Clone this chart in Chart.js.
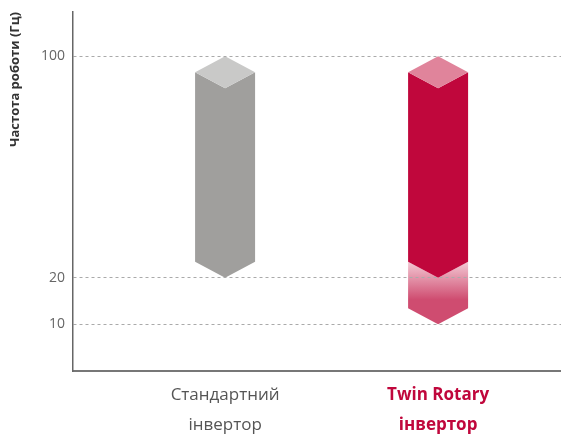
<!doctype html>
<html>
  <head>
    <meta charset="utf-8">
    <script src="https://cdnjs.cloudflare.com/ajax/libs/Chart.js/4.4.1/chart.umd.js"></script>
    <style>
      body { margin: 0; background: #fff; }
      #wrap { width: 561px; height: 434px; }
    </style>
    <script>
      // inverter types and their working frequency range (Hz)
      let categories = [['Стандартний', 'інвертор'], ['Twin Rotary', 'інвертор']];
      let categoryPos = [1, 2];
      let coreRange = [[20, 100], [20, 100]];
      let extendedRange = [null, [10, 20]];
      let yTicks = [10, 20, 100];

      // y scale that is stretched below 20 Hz
      class PiecewiseScale extends Chart.LinearScale {
        _toDecimal(v) {
          let stops = this.options.stops, shares = this.options.shares;
          let acc = 0;
          for (let i = 0; i < shares.length; i++) {
            if (v <= stops[i + 1] || i == shares.length - 1) {
              return acc + (v - stops[i]) / (stops[i + 1] - stops[i]) * shares[i];
            }
            acc += shares[i];
          }
          return acc;
        }
        getPixelForValue(value) {
          return this.getPixelForDecimal(this._toDecimal(value));
        }
        getValueForPixel(pixel) {
          let d = this.getDecimalForPixel(pixel);
          let stops = this.options.stops, shares = this.options.shares;
          let acc = 0;
          for (let i = 0; i < shares.length; i++) {
            if (d <= acc + shares[i] || i == shares.length - 1) {
              return stops[i] + (d - acc) / shares[i] * (stops[i + 1] - stops[i]);
            }
            acc += shares[i];
          }
          return stops[stops.length - 1];
        }
      }
      PiecewiseScale.id = 'piecewise';
      PiecewiseScale.defaults = Chart.LinearScale.defaults;
      Chart.register(PiecewiseScale);

      const CAP = 16;

      function hexPath(ctx, l, r, top, base, notchTop) {
        let cx = (l + r) / 2;
        ctx.beginPath();
        if (notchTop) {
          ctx.moveTo(l, top - CAP);
          ctx.lineTo(cx, top);
          ctx.lineTo(r, top - CAP);
        } else {
          ctx.moveTo(l, top + CAP);
          ctx.lineTo(cx, top + 2 * CAP);
          ctx.lineTo(r, top + CAP);
        }
        ctx.lineTo(r, base - CAP);
        ctx.lineTo(cx, base);
        ctx.lineTo(l, base - CAP);
        ctx.closePath();
      }

      const prisms = {
        id: 'prisms',
        beforeDatasetDraw() { return false; },
        afterDatasetsDraw(chart) {
          let ctx = chart.ctx;
          ctx.save();
          // lower faded part first
          let ext = chart.data.datasets[1];
          chart.getDatasetMeta(1).data.forEach((bar, i) => {
            if (!extendedRange[i]) return;
            let p = bar.getProps(['x', 'y', 'base', 'width'], true);
            let g = ctx.createLinearGradient(0, p.y - CAP, 0, p.y - CAP + 38);
            g.addColorStop(0, ext.fadeFrom);
            g.addColorStop(1, ext.fadeTo);
            ctx.fillStyle = g;
            hexPath(ctx, p.x - p.width / 2, p.x + p.width / 2, p.y, p.base, true);
            ctx.fill();
          });
          let core = chart.data.datasets[0];
          chart.getDatasetMeta(0).data.forEach((bar, i) => {
            let p = bar.getProps(['x', 'y', 'base', 'width'], true);
            let l = p.x - p.width / 2, r = p.x + p.width / 2;
            ctx.fillStyle = core.backgroundColor[i];
            hexPath(ctx, l, r, p.y, p.base, false);
            ctx.fill();
            ctx.fillStyle = core.capColor[i];
            ctx.beginPath();
            ctx.moveTo(p.x, p.y);
            ctx.lineTo(r, p.y + CAP);
            ctx.lineTo(p.x, p.y + 2 * CAP);
            ctx.lineTo(l, p.y + CAP);
            ctx.closePath();
            ctx.fill();
          });
          ctx.restore();
        }
      };

      function startPage() {
        new Chart(document.getElementById('c1'), {
          type: 'bar',
          data: {
            datasets: [{
              label: 'core',
              data: categoryPos.map((x, i) => ({ x: x, y: coreRange[i] })),
              backgroundColor: ['#a09f9d', '#c0073c'],
              capColor: ['#c9c9c8', '#e0849b'],
              barThickness: 60,
              grouped: false
            }, {
              label: 'extended',
              data: categoryPos.map((x, i) => ({ x: x, y: extendedRange[i] })),
              fadeFrom: '#f3cad5',
              fadeTo: '#cf4c70',
              barThickness: 60,
              grouped: false
            }]
          },
          options: {
            responsive: true,
            maintainAspectRatio: false,
            animation: false,
            layout: { padding: { top: 12, left: 0, right: 0, bottom: 0 } },
            plugins: { legend: { display: false }, tooltip: { enabled: false } },
            scales: {
              x: {
                type: 'linear',
                offset: false,
                min: 0.286,
                max: 2.577,
                afterBuildTicks: s => { s.ticks = categoryPos.map(v => ({ value: v })); },
                afterFit: s => { s.height = 63; s.paddingLeft = 0; s.paddingRight = 0; },
                grid: { offset: false, drawOnChartArea: false, drawTicks: false },
                border: { display: true, color: '#777', width: 2 },
                ticks: {
                  autoSkip: false,
                  maxRotation: 0,
                  padding: 9,
                  callback: (v, i) => categories[i],
                  color: c => c.index == 1 ? '#c0073c' : '#555',
                  font: c => ({ family: 'Open Sans', size: 17, weight: c.index == 1 ? 'bold' : 'normal', lineHeight: 1.76 })
                }
              },
              y: {
                type: 'piecewise',
                min: 0,
                max: 116,
                stops: [0, 20, 116],
                shares: [0.26, 0.74],
                afterBuildTicks: s => { s.ticks = yTicks.map(v => ({ value: v })); },
                afterFit: s => { s.width = 73; s.paddingTop = 0; s.paddingBottom = 0; },
                grid: { color: '#aaa', lineWidth: 1, drawTicks: false, z: 1 },
                border: { display: true, color: '#666', width: 1.5, dash: [3, 3], z: 1 },
                ticks: {
                  padding: 8,
                  color: '#666',
                  font: { family: 'Open Sans', size: 14 }
                },
                title: {
                  display: true,
                  text: 'Частота роботи (Гц)',
                  align: 'end',
                  color: '#333',
                  padding: { top: 7, bottom: 0 },
                  font: { family: 'Open Sans', size: 13, weight: 'bold' }
                }
              }
            }
          },
          plugins: [prisms]
        });
      }
    </script>
  </head>
  <body onload="startPage()">
    <div id="wrap"><canvas id="c1"></canvas></div>
  </body>
</html>
